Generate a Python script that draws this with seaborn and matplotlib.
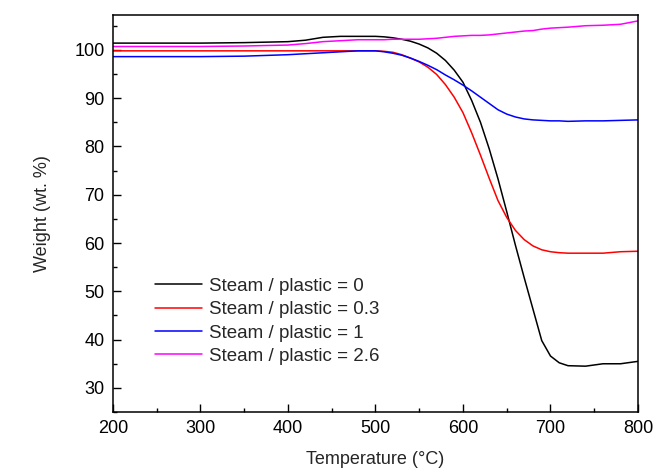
# TGA curves at different steam / plastic ratios

import pandas as pd
import numpy as np
import matplotlib
matplotlib.use("Agg")
import matplotlib.pyplot as plt
import seaborn as sns
from matplotlib.ticker import MultipleLocator

# Data
temperature = [200, 250, 300, 350, 400, 420, 440, 460, 480,
               500, 510, 520, 530, 540, 550, 560, 570, 580, 590, 600, 610,
               620, 630, 640, 650, 660, 670, 680, 690, 700, 710, 720,
               740, 760, 780, 800]

ratio_0 = [101.4, 101.4, 101.4, 101.5, 101.7, 102.0, 102.6, 102.8, 102.8,
           102.8, 102.7, 102.5, 102.2, 101.8, 101.2, 100.4, 99.3, 97.8, 95.8,
           93.3, 89.5, 85.0, 79.5, 73.3, 66.5, 59.5, 52.8, 46.3, 39.8, 36.6,
           35.2, 34.6, 34.5, 35.0, 35.0, 35.5]
ratio_03 = [99.8, 99.8, 99.8, 99.8, 99.8, 99.8, 99.8, 99.8, 99.8,
            99.8, 99.7, 99.5, 99.0, 98.3, 97.5, 96.4, 94.9, 92.8, 90.2,
            87.0, 82.8, 78.2, 73.4, 68.8, 65.3, 62.6, 60.7, 59.4, 58.6, 58.2,
            58.0, 57.9, 57.9, 57.9, 58.2, 58.3]
ratio_1 = [98.6, 98.6, 98.6, 98.7, 99.0, 99.2, 99.4, 99.6, 99.8,
           99.8, 99.6, 99.3, 98.9, 98.3, 97.6, 96.8, 95.9, 94.8, 93.8,
           92.7, 91.5, 90.2, 88.9, 87.6, 86.7, 86.1, 85.7, 85.5, 85.4, 85.3,
           85.3, 85.2, 85.3, 85.3, 85.4, 85.5]
ratio_26 = [100.7, 100.7, 100.7, 100.8, 101.0, 101.3, 101.7, 101.9, 102.1,
            102.1, 102.1, 102.2, 102.2, 102.2, 102.2, 102.3, 102.4, 102.6, 102.8,
            102.9, 103.0, 103.0, 103.1, 103.3, 103.5, 103.7, 103.9, 104.0, 104.3,
            104.5, 104.6, 104.7, 105.0, 105.1, 105.3, 106.0]

labels = ["Steam / plastic = 0", "Steam / plastic = 0.3",
          "Steam / plastic = 1", "Steam / plastic = 2.6"]
colors = ["black", "#ff0000", "#0000ff", "#ff00ff"]

# Long-form table
frames = []
for lab, vals in zip(labels, [ratio_0, ratio_03, ratio_1, ratio_26]):
    frames.append(pd.DataFrame({"T": temperature, "W": vals, "series": lab}))
df = pd.concat(frames, ignore_index=True)

# Style
sns.set_style("ticks")
plt.rcParams["font.family"] = ["Liberation Sans", "DejaVu Sans"]

fig = plt.figure(figsize=(6.56, 4.72), dpi=100)
ax = fig.add_axes([0.172, 0.127, 0.8006, 0.841])

sns.lineplot(data=df, x="T", y="W", hue="series", hue_order=labels,
             palette=colors, linewidth=1.1, ax=ax)

ax.set_xlim(200, 800)
ax.set_ylim(25, 107.2)
ax.xaxis.set_major_locator(MultipleLocator(100))
ax.xaxis.set_minor_locator(MultipleLocator(50))
ax.yaxis.set_major_locator(MultipleLocator(10))
ax.yaxis.set_minor_locator(MultipleLocator(5))
ax.tick_params(which="both", direction="in", top=False, right=False,
               labelsize=13, width=1.0, colors="black")
ax.tick_params(which="major", length=6, pad=6)
ax.tick_params(which="minor", length=3)
ax.set_yticks([30, 40, 50, 60, 70, 80, 90, 100])

for s in ax.spines.values():
    s.set_visible(True)
    s.set_linewidth(1.1)
    s.set_color("black")

ax.set_xlabel("Temperature (\u00b0C)", fontsize=13, labelpad=10)
ax.set_ylabel("Weight (wt. %)", fontsize=13, labelpad=17)

ax.legend(loc="lower left", bbox_to_anchor=(0.066, 0.10), frameon=False,
          fontsize=13.5, handlelength=2.5, handletextpad=0.4,
          labelspacing=0.33, borderaxespad=0)

fig.savefig("out.png", dpi=100)
